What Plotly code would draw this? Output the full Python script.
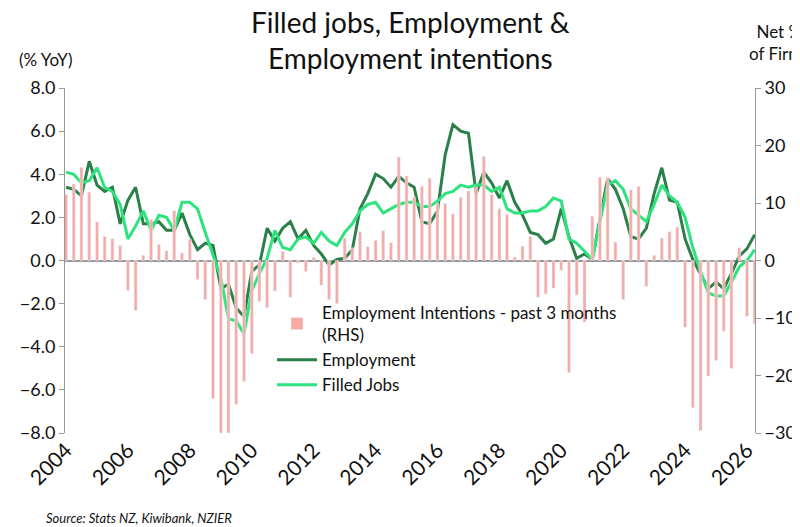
import pandas as pd
import plotly.graph_objects as go

# Quarterly from 2004Q1
employment = [3.4, 3.3, 3.0, 4.6, 3.5, 3.2, 3.4, 1.7, 2.8, 3.4, 1.7, 1.7,
              1.8, 1.4, 1.4, 2.2, 1.2, 0.5, 0.8, 0.7, -1.3, -1.1, -2.2, -2.6,
              -0.5, -0.2, 1.5, 0.9, 1.5, 1.8, 1.0, 1.4, 0.7, 0.3, -0.2, 0.05,
              0.1, 0.5, 2.4, 3.1, 4.0, 3.8, 3.4,
              3.9, 3.6, 3.4, 1.8, 1.7, 2.3, 4.9, 6.3, 6.0, 5.9, 3.1, 4.1, 3.6,
              2.9, 3.7, 2.7, 2.1, 1.3, 1.2, 0.8, 1.0, 2.4, 1.1, 0.1, 0.3, 0.05,
              2.0, 3.8, 3.3, 2.4, 1.1, 1.0, 1.5, 3.1, 4.3, 2.8, 2.7, 1.0, 0.05,
              -0.6, -1.3, -1.0, -1.3, -0.6, 0.2, 0.55, 1.2]
filled_jobs = [4.1, 4.0, 3.6, 3.7, 4.3, 3.4, 3.2, 2.6, 1.0, 1.6, 2.3, 1.4,
               2.1, 2.0, 1.4, 2.7, 2.7, 2.4, 1.3, 0.3, -0.8, -2.7, -2.8, -3.4,
               -1.4, -0.6, 0.1, 1.4, 0.6, 0.5, 1.0, 1.1, 0.8, 1.3, 0.9, 0.7,
               1.3, 1.7, 2.3, 2.6, 2.7, 2.2, 2.4,
               2.6, 2.7, 2.7, 2.5, 2.5, 2.75, 3.1, 3.2, 3.5, 3.4, 3.5, 3.5, 3.2,
               3.4, 2.4, 2.2, 2.2, 2.3, 2.3, 2.5, 2.9, 2.75, 1.0, 0.8, 0.4, 0.05,
               1.8, 3.5, 3.7, 3.3, 2.4, 2.1, 1.8, 2.6, 3.5, 3.0, 2.7, 2.0, 0.6,
               -0.5, -1.5, -1.65, -1.65, -1.0, -0.3, 0.0, 0.5]
intentions = [11.5, 13.3, 16.2, 11.9, 6.7, 4.2, 3.8, 2.6, -5.2, -8.7, 0.9, 7.1,
              2.8, 1.7, 8.7, 1.3, 3.7, -3.3, -6.8, -24, -30, -30, -25, -21,
              -16.2, -7.1, -8.2, -5.3, 1.6, -6.4, -0.4, -1.9, 0.5, -4.3, -6.8, -7.5,
              3.9, 2.2, 5.0, 2.4, 3.5, 5.2, 3.1,
              18.0, 14.7, 11.0, 12.9, 14.3, 10.0, 9.9, 8.1, 11.0, 12.1, 12.8, 18.1,
              11.5, 9.0, 8.0, 0.6, 2.5, 4.2, -6.4, -5.8, -4.8, -1.7, -19.5, -6.0,
              -10.7, 7.7, 14.5, 14.4, 3.2, -6.8, 12.3, 12.9, -4.5, 0.9, 3.9, 5.0,
              5.8, -11.6, -25.6, -29.6, -20.1, -17.4, -12.3, -18.8, 2.2, -9.7, -11.0]

dates = pd.date_range("2004-01-01", periods=len(employment), freq="QS")

font_name = "Lato"
fig = go.Figure()
fig.add_trace(go.Bar(x=dates, y=intentions, yaxis="y2", name="Employment Intentions - past 3 months<br>(RHS)",
                     marker_color="#f7aaa3", width=1000 * 3600 * 24 * 35))
fig.add_trace(go.Scatter(x=dates, y=employment, mode="lines", name="Employment",
                         line=dict(color="#2a8048", width=3)))
fig.add_trace(go.Scatter(x=dates, y=filled_jobs, mode="lines", name="Filled Jobs",
                         line=dict(color="#2ee27d", width=3)))

fig.update_layout(
    width=800, height=527,
    paper_bgcolor="white", plot_bgcolor="white",
    font=dict(family=font_name, color="#111", size=16),
    margin=dict(l=56, r=52, t=80, b=102),
    showlegend=True,
    legend=dict(x=0.3, y=0.4, xanchor="left", yanchor="top", bgcolor="rgba(0,0,0,0)",
                font=dict(size=17), tracegroupgap=14, itemwidth=40),
    xaxis=dict(range=["2003-12-20", "2026-04-05"], tickformat="%Y", dtick="M24",
               tick0="2004-01-01", tickangle=-45, showgrid=False, showline=False,
               tickfont=dict(size=21)),
    yaxis=dict(range=[-8, 8], dtick=2, tickformat=".1f", showgrid=False,
               showline=True, linecolor="#999", ticks="outside", tickcolor="#999",
               zeroline=True, zerolinecolor="#999", zerolinewidth=1.5, tickfont=dict(size=18)),
    yaxis2=dict(range=[-30, 30], dtick=10, overlaying="y", side="right", showgrid=False,
                showline=True, linecolor="#999", ticks="outside", tickcolor="#999",
                zeroline=False, tickfont=dict(size=18)),
    bargap=0.4,
)
fig.add_annotation(text="Filled jobs, Employment &<br>Employment intentions", xref="paper", yref="paper",
                   x=0.5, y=1.245, xanchor="center", yanchor="top", showarrow=False,
                   font=dict(size=28))
fig.add_annotation(text="(% YoY)", xref="paper", yref="paper", x=-0.07, y=1.12,
                   xanchor="left", showarrow=False, font=dict(size=17))
fig.add_annotation(text="Net %<br>of Firms", xref="paper", yref="paper", x=1.035, y=1.2,
                   xanchor="center", align="center", showarrow=False, font=dict(size=17))
fig.add_annotation(text="<i>Source: Stats NZ, Kiwibank, NZIER</i>", xref="paper", yref="paper",
                   x=-0.03, y=-0.275, xanchor="left", showarrow=False, font=dict(size=13))

fig.write_html("out.html")
